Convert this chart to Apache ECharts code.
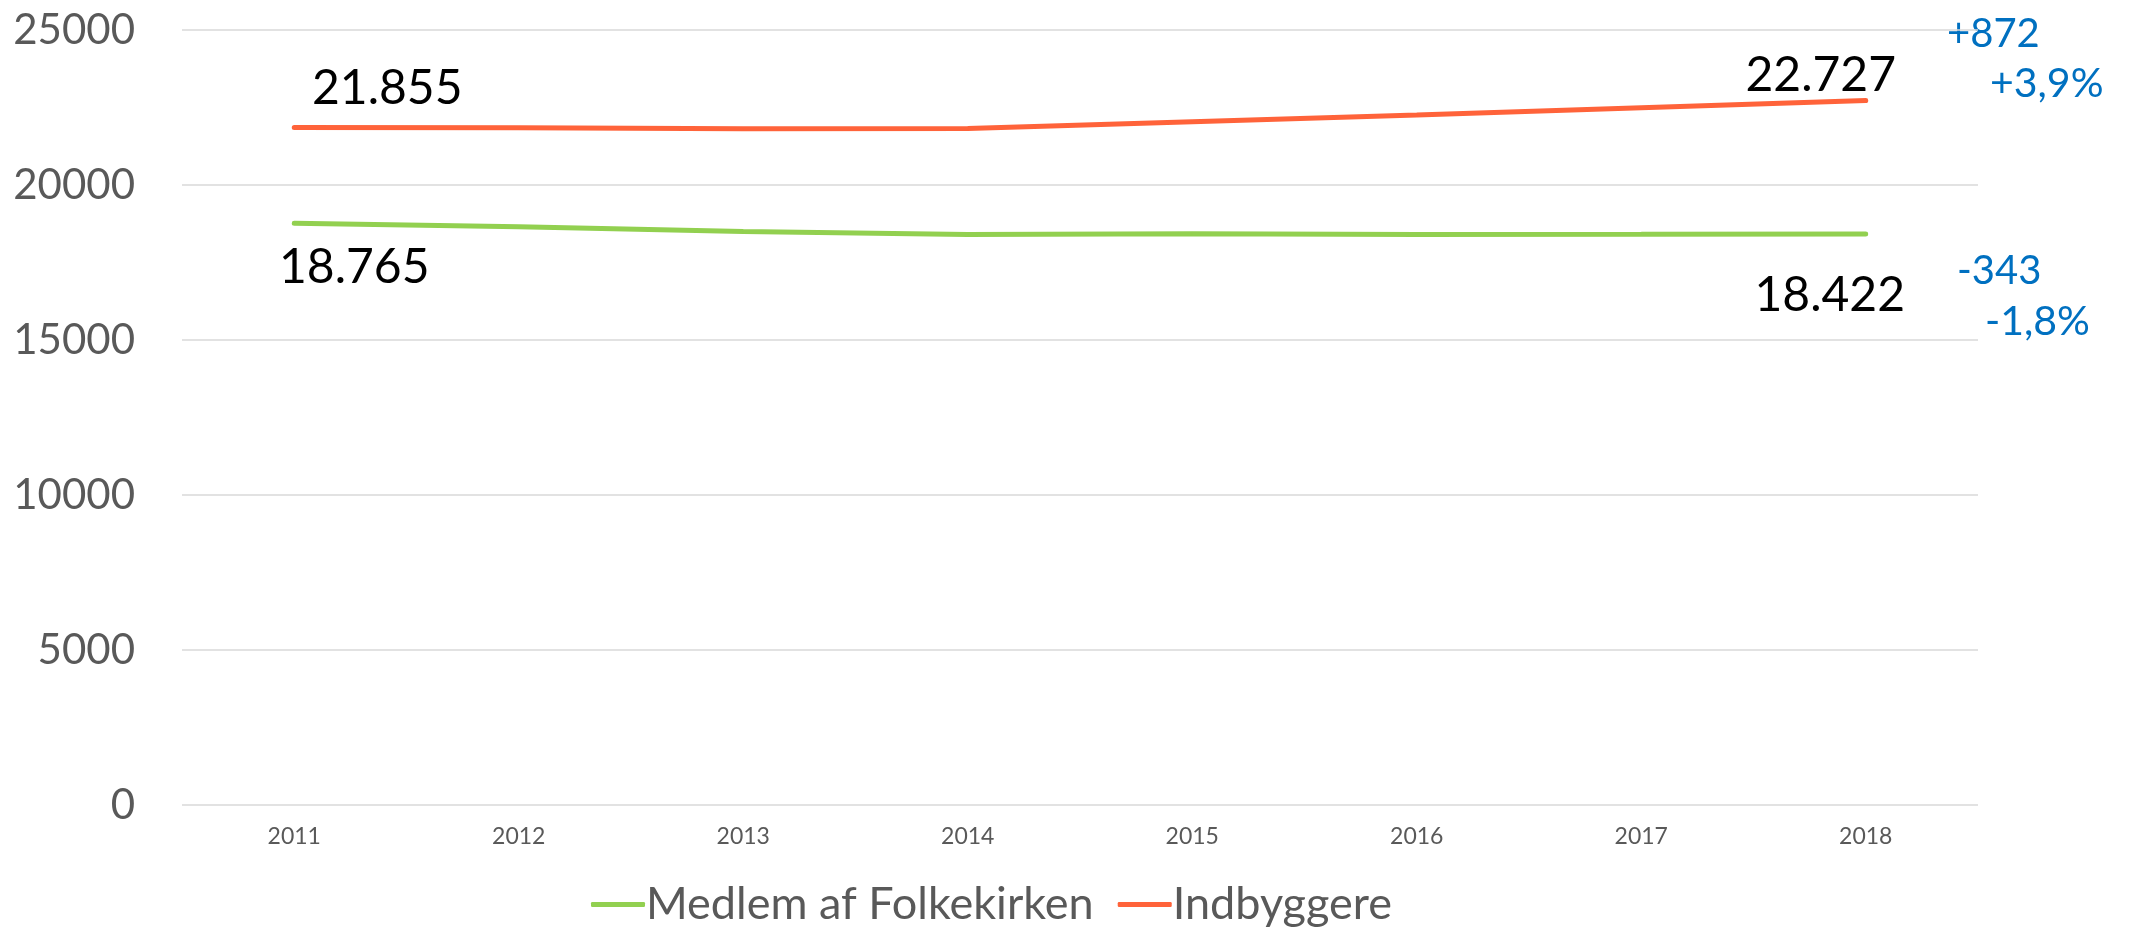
<!DOCTYPE html>
<html><head><meta charset="utf-8">
<script src="https://cdn.jsdelivr.net/npm/echarts@6/dist/echarts.min.js"></script>
<style>html,body{margin:0;padding:0;background:#fff}#c{width:2136px;height:928px}</style>
</head><body><div id="c"></div>
<script>
const years = ['2011','2012','2013','2014','2015','2016','2017','2018'];
const medlem = [18765, 18650, 18500, 18400, 18430, 18400, 18410, 18422];
const indbyggere = [21855, 21850, 21815, 21820, 22040, 22260, 22490, 22727];
const seriesNames = ['Medlem af Folkekirken', 'Indbyggere'];
const changeIndbyggere = ['+872', '+3,9%'];
const changeMedlem = ['-343', '-1,8%'];

const FONT = 'Lato, "Open Sans", sans-serif';
function fmt(v){ return String(v).replace(/(\d)(?=(\d{3})+$)/g, '$1.'); }
function build(values, firstOff, lastOff){
  return values.map((v, i) => {
    const item = { value: v };
    if (i === 0 || i === values.length - 1) {
      item.label = { show: true, position: 'inside', offset: i === 0 ? firstOff : lastOff,
        formatter: p => fmt(p.value), fontSize: 48, color: '#000', fontFamily: FONT };
    }
    return item;
  });
}
const chart = echarts.init(document.getElementById('c'));
chart.setOption({
  backgroundColor: '#fff',
  animation: false,
  grid: { left: 182, right: 158, top: 30, bottom: 123 },
  xAxis: { type: 'category', data: years, boundaryGap: true,
    axisLine: { show: false }, axisTick: { show: false },
    axisLabel: { fontSize: 23, color: '#595959', margin: 20, fontFamily: FONT } },
  yAxis: { type: 'value', min: 0, max: 25000, interval: 5000,
    axisLine: { show: false }, axisTick: { show: false },
    splitLine: { lineStyle: { color: '#d9d9d9', width: 1.5 } },
    axisLabel: { fontSize: 42, color: '#595959', margin: 47, fontFamily: FONT, formatter: v => String(v) } },
  legend: { left: 586, top: 877, itemWidth: 54, itemHeight: 5, itemGap: 24,
    textStyle: { fontSize: 45, color: '#595959', fontFamily: FONT, padding: [0,0,0,-4] },
    data: seriesNames.map(n => ({ name: n, icon: 'roundRect' })) },
  series: [
    { name: seriesNames[0], type: 'line', data: build(medlem, [60, 44], [-36, 62]),
      symbol: 'circle', symbolSize: 1, lineStyle: { width: 5, color: '#92D050', cap: 'round' },
      itemStyle: { color: '#92D050' } },
    { name: seriesNames[1], type: 'line', data: build(indbyggere, [93, -39], [-45, -25]),
      symbol: 'circle', symbolSize: 1, lineStyle: { width: 5, color: '#FF633A', cap: 'round' },
      itemStyle: { color: '#FF633A' } }
  ],
  graphic: [
    { type: 'text', left: 1947, top: 14, style: { text: changeIndbyggere[0], fontSize: 40, fill: '#0070C0', fontFamily: FONT } },
    { type: 'text', left: 1990, top: 63, style: { text: changeIndbyggere[1], fontSize: 41, fill: '#0070C0', fontFamily: FONT } },
    { type: 'text', left: 1957, top: 251, style: { text: changeMedlem[0], fontSize: 40, fill: '#0070C0', fontFamily: FONT } },
    { type: 'text', left: 1985, top: 301, style: { text: changeMedlem[1], fontSize: 41, fill: '#0070C0', fontFamily: FONT } }
  ]
});
</script></body></html>
